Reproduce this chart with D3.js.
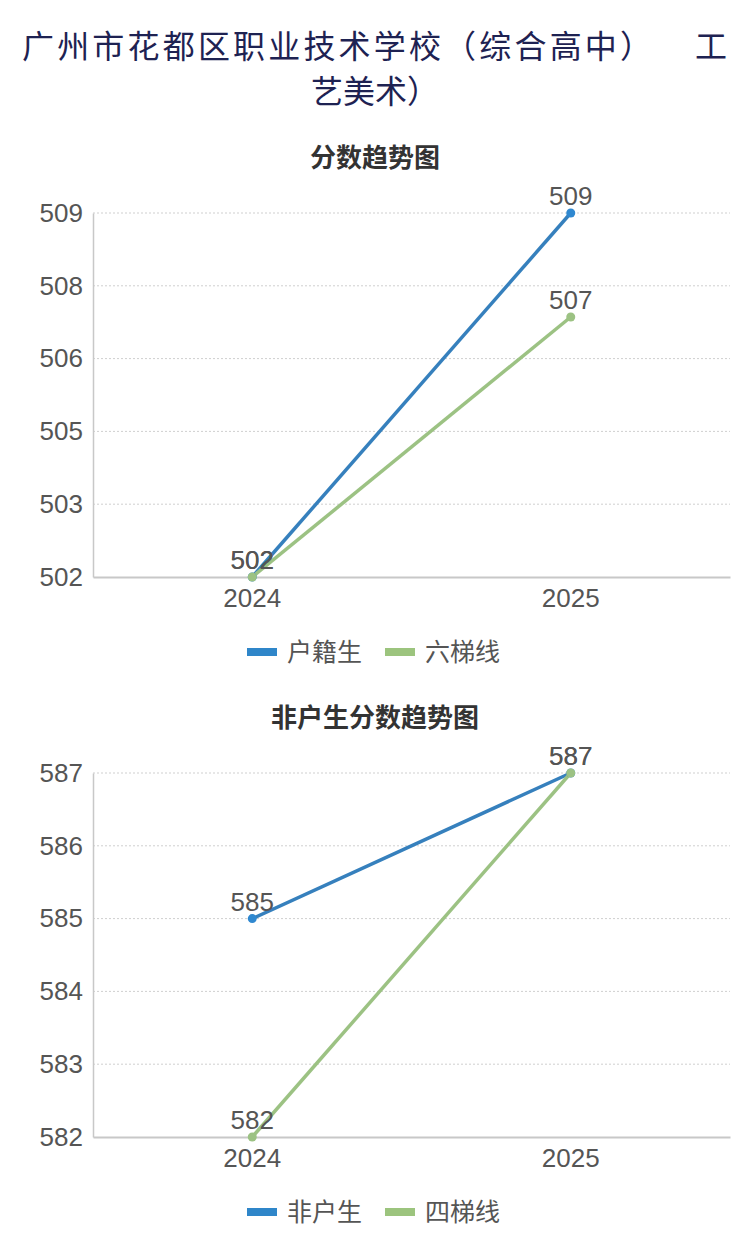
<!DOCTYPE html>
<html>
<head>
<meta charset="utf-8">
<script src="https://cdn.jsdelivr.net/npm/d3@7"></script>
<style>
  body { margin: 0; background: #fff; }
  svg { display: block; font-family: "Noto Sans CJK SC", "Noto Sans", sans-serif; }
</style>
</head>
<body>
<svg id="chart" width="750" height="1244"></svg>
<script>
const years = ['2024', '2025'];

// chart 1: 户籍生 / 六梯线
const chart1Title = '分数趋势图';
const chart1Names = ['户籍生', '六梯线'];
const huji = [502, 509];
const liuTi = [502, 507];
const chart1Domain = [502, 509];

// chart 2: 非户生 / 四梯线
const chart2Title = '非户生分数趋势图';
const chart2Names = ['非户生', '四梯线'];
const feiHu = [585, 587];
const siTi = [582, 587];
const chart2Domain = [582, 587];

const lineColors = ['#3680bd', '#9cc283'];
const dotColors = ['#2f88d0', '#9cc283'];
const legendColors = ['#2f86c9', '#9cc47e'];
const numFont = '"Liberation Sans", Arial, sans-serif';

const svg = d3.select('#chart');

// page title
const title = svg.append('g').attr('fill', '#1e2252').attr('font-size', 32);
title.append('text').attr('x', 22).attr('y', 58).attr('textLength', 630)
    .text('广州市花都区职业技术学校（综合高中）');
title.append('text').attr('x', 695).attr('y', 58).text('工');
title.append('text').attr('x', 375).attr('y', 103).attr('text-anchor', 'middle').text('艺美术）');

function drawChart(opts) {
    const g = svg.append('g');
    const left = 93, right = 730;
    const x = d3.scaleBand().domain(years).range([left, right]);
    const y = d3.scaleLinear().domain(opts.domain).range([opts.bottom, opts.top]);
    const cx = d => x(d) + x.bandwidth() / 2;

    g.append('text')
        .attr('x', 375).attr('y', opts.top - 46)
        .attr('text-anchor', 'middle')
        .attr('font-size', 26).attr('font-weight', 'bold')
        .attr('fill', '#333')
        .text(opts.title);

    const ticks = d3.range(opts.tickCount).map(i =>
        opts.domain[0] + i * (opts.domain[1] - opts.domain[0]) / (opts.tickCount - 1));

    // gridlines
    g.selectAll('line.grid').data(ticks.slice(1)).enter().append('line')
        .attr('class', 'grid')
        .attr('x1', left).attr('x2', right)
        .attr('y1', d => y(d)).attr('y2', d => y(d))
        .attr('stroke', '#cfcfcf').attr('stroke-width', 1)
        .attr('stroke-dasharray', '2,2');

    // y axis
    const yAxis = g.append('g')
        .attr('transform', `translate(${left},0)`)
        .call(d3.axisLeft(y).tickValues(ticks).tickSize(0).tickPadding(10)
            .tickFormat(d => Math.round(d)));
    yAxis.select('.domain').attr('stroke', '#c8c8c8').attr('stroke-width', 1.5);
    yAxis.selectAll('text').attr('font-size', 26).attr('fill', '#555')
        .attr('font-family', numFont);

    // x axis
    const xAxis = g.append('g')
        .attr('transform', `translate(0,${opts.bottom})`)
        .call(d3.axisBottom(x).tickSize(0).tickPadding(12));
    xAxis.select('.domain').attr('stroke', '#c8c8c8').attr('stroke-width', 2);
    xAxis.selectAll('text').attr('font-size', 26).attr('fill', '#555')
        .attr('font-family', numFont);

    const line = d3.line().x((d, i) => cx(years[i])).y(d => y(d));

    opts.series.forEach((vals, si) => {
        g.append('path').datum(vals)
            .attr('d', line)
            .attr('fill', 'none')
            .attr('stroke', lineColors[si])
            .attr('stroke-width', 3.5);
    });
    opts.series.forEach((vals, si) => {
        g.selectAll(null).data(vals).enter().append('circle')
            .attr('cx', (d, i) => cx(years[i])).attr('cy', d => y(d))
            .attr('r', 4.5).attr('fill', dotColors[si]);
    });
    opts.series.forEach((vals, si) => {
        g.selectAll(null).data(vals).enter().append('text')
            .attr('x', (d, i) => cx(years[i])).attr('y', d => y(d) - 8)
            .attr('text-anchor', 'middle')
            .attr('font-size', 26).attr('fill', '#555')
            .attr('font-family', numFont)
            .text(d => d);
    });

    // legend
    const lg = g.append('g').attr('transform', `translate(0,${opts.bottom + 75})`);
    const legX = [247, 385];
    opts.names.forEach((n, i) => {
        lg.append('rect').attr('x', legX[i]).attr('y', -4).attr('width', 30).attr('height', 8)
            .attr('fill', legendColors[i]);
        lg.append('text').attr('x', legX[i] + 40).attr('y', 9)
            .attr('font-size', 25).attr('fill', '#555').text(n);
    });
}

drawChart({
    title: chart1Title, names: chart1Names, series: [huji, liuTi],
    domain: chart1Domain, tickCount: 6, top: 213, bottom: 577
});
drawChart({
    title: chart2Title, names: chart2Names, series: [feiHu, siTi],
    domain: chart2Domain, tickCount: 6, top: 773, bottom: 1137
});
</script>
</body>
</html>
